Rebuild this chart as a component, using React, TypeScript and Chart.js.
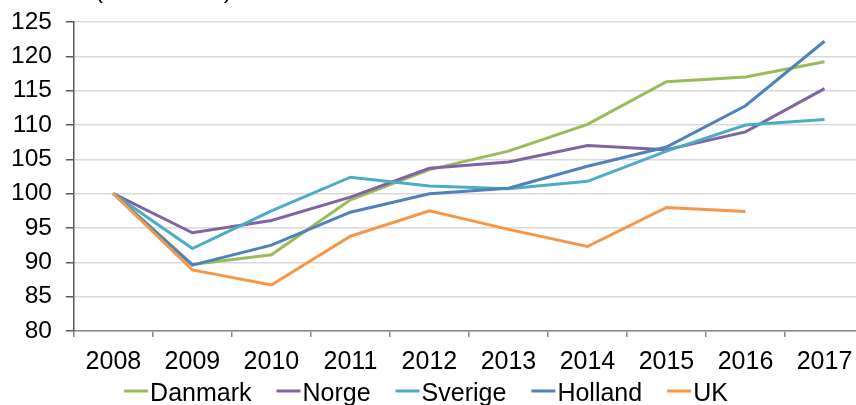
import React, { useEffect, useRef } from "react";
import { Chart, registerables } from "chart.js";

Chart.register(...registerables);

const years = ["2008", "2009", "2010", "2011", "2012", "2013", "2014", "2015", "2016", "2017"];
const danmark = [100, 89.7, 91.1, 99.1, 103.5, 106.2, 110.1, 116.3, 117.0, 119.2];
const norge = [100, 94.3, 96.1, 99.5, 103.7, 104.6, 107.0, 106.4, 109.0, 115.3];
const sverige = [100, 92.0, 97.5, 102.4, 101.1, 100.7, 101.8, 106.2, 110.0, 110.8];
const holland = [100, 89.6, 92.5, 97.3, 100.0, 100.8, 104.0, 106.8, 112.8, 122.2];
const uk = [100, 88.9, 86.7, 93.8, 97.5, 94.8, 92.3, 98.0, 97.4, null];
const seriesNames = ["Danmark", "Norge", "Sverige", "Holland", "UK"];
const seriesColors = ["#9BBB59", "#8064A2", "#4BACC6", "#4F81BD", "#F79646"];
const titleText = "(2008 = 100)";

const FONT = "'Liberation Sans', Arial, sans-serif";
const VIEW_W = 856;

const customLegend = {
  id: "customLegend",
  afterDraw(chart: any) {
    const ctx = chart.ctx;
    const size = 25;
    ctx.save();
    ctx.font = `${size}px ${FONT}`;
    const sample = 24;
    const gap = 2;
    const spacing = 25;
    const items = chart.data.datasets.map((d: any) => ({
      label: d.label,
      color: d.borderColor,
      w: ctx.measureText(d.label).width,
    }));
    let total = 0;
    items.forEach((it: any, i: number) => {
      total += sample + gap + it.w + (i > 0 ? spacing : 0);
    });
    let x = VIEW_W / 2 - total / 2 - 2;
    const y = chart.chartArea.bottom + 61;
    items.forEach((it: any) => {
      ctx.strokeStyle = it.color;
      ctx.lineWidth = 3;
      ctx.beginPath();
      ctx.moveTo(x, y - 1);
      ctx.lineTo(x + sample, y - 1);
      ctx.stroke();
      ctx.fillStyle = "#000";
      ctx.textBaseline = "middle";
      ctx.textAlign = "left";
      ctx.fillText(it.label, x + sample + gap, y + 2);
      x += sample + gap + it.w + spacing;
    });
    // title (cut at top)
    ctx.font = `24px ${FONT}`;
    ctx.textBaseline = "alphabetic";
    ctx.fillText(titleText, chart.chartArea.left + 21, chart.chartArea.top - 24);
    ctx.restore();
  },
};

export default function App() {
  const ref = useRef<HTMLCanvasElement>(null);
  useEffect(() => {
    if (!ref.current) return;
    const seriesData = [danmark, norge, sverige, holland, uk];
    const chart = new Chart(ref.current, {
      type: "line",
      data: {
        labels: years,
        datasets: seriesData.map((d, i) => ({
          label: seriesNames[i],
          data: d,
          borderColor: seriesColors[i],
          backgroundColor: seriesColors[i],
          borderWidth: 3,
          pointRadius: 0,
          tension: 0,
          fill: false,
          order: seriesData.length - i,
        })),
      },
      options: {
        animation: false,
        responsive: false,
        devicePixelRatio: 1,
        layout: { autoPadding: false, padding: { top: 22, left: -3, right: 0, bottom: 18 } },
        plugins: {
          legend: { display: false },
          title: { display: false },
          tooltip: { enabled: false },
        },
        scales: {
          x: {
            offset: true,
            grid: {
              offset: true,
              drawOnChartArea: false,
              drawTicks: true,
              tickLength: 6,
              tickColor: "#878787",
              lineWidth: 1.5,
            },
            border: { color: "#878787", width: 1.5 },
            ticks: {
              color: "#000",
              font: { family: FONT, size: 25 },
              padding: 10,
              maxRotation: 0,
              autoSkip: false,
            },
          },
          y: {
            min: 80,
            max: 125,
            ticks: {
              stepSize: 5,
              color: "#000",
              font: { family: FONT, size: 24.5, lineHeight: 0.6 },
              padding: 14,
            },
            grid: {
              color: "#d9d9d9",
              lineWidth: 1.5,
              drawTicks: true,
              tickLength: 8,
              tickColor: "#595959",
            },
            border: { color: "#595959", width: 1.5 },
          },
        },
      },
      plugins: [customLegend],
    });
    return () => chart.destroy();
  }, []);
  return (
    <div style={{ position: "fixed", left: 0, top: 0, width: VIEW_W, height: 405, overflow: "hidden", background: "#fff" }}>
      <canvas ref={ref} width={864} height={405} style={{ width: 864, height: 405, display: "block" }} />
    </div>
  );
}
